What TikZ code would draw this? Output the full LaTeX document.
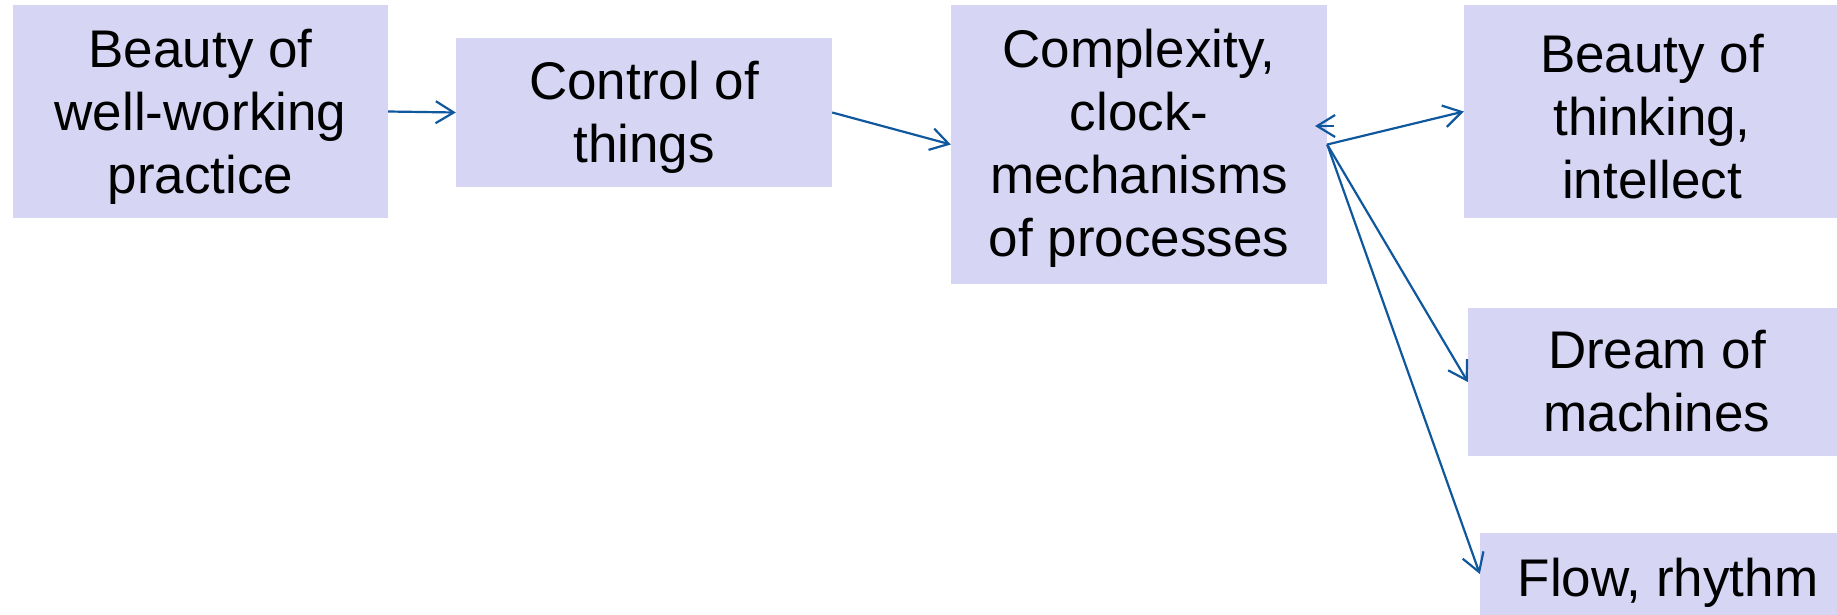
\documentclass[tikz,border=0pt]{standalone}
\usepackage{fontspec}
\setmainfont{Liberation Sans}
\usetikzlibrary{arrows.meta}
\definecolor{boxfill}{RGB}{214,214,244}
\definecolor{arrblue}{RGB}{16,88,158}
\tikzset{
  box/.style={fill=boxfill, draw=none, rectangle, inner sep=0pt},
  txt/.style={inner sep=0pt, align=center, font=\fontsize{53}{63}\selectfont},
  conn/.style={draw=arrblue, line width=2.2pt,
    -{Straight Barb[length=18pt,width=22pt,line width=2.2pt]}}
}
\begin{document}
\begin{tikzpicture}[x=1pt,y=-1pt]
\useasboundingbox (0,0) rectangle (1837,614);
\node[box, minimum width=375pt, minimum height=213pt] (b1) at (200.5,111.5) {};
\node[box, minimum width=376pt, minimum height=149pt] (b2) at (644,112.5) {};
\node[box, minimum width=376pt, minimum height=279pt] (b3) at (1139,144.5) {};
\node[box, minimum width=376pt, minimum height=213pt] (b4) at (1652,111.5) {};
\node[box, minimum width=378pt, minimum height=148pt] (b5) at (1657,382) {};
\node[box, minimum width=376pt, minimum height=82pt] (b6) at (1668,574) {};
\node[txt] (t1) at ([yshift=-5pt]b1.center) {Beauty of\\well-working\\practice};
\node[txt] (t2) at ([yshift=-5pt]b2.center) {Control of\\things};
\node[txt] (t3) at ([yshift=-3.5pt]b3.center) {Complexity,\\clock-\\mechanisms\\of processes};
\node[txt] (t4) at ([yshift=-5pt]b4.center) {Beauty of\\thinking,\\intellect};
\node[txt] (t5) at ([yshift=1.25pt]b5.center) {Dream of\\machines};
\node[txt] (t6) at ([yshift=-8.5pt]b6.center) {Flow, rhythm};
\coordinate (sa) at (1334,126);
\coordinate (sb) at (1315,126);
\draw[conn] (b1.east) -- (b2.west);
\draw[conn] (b2.east) -- (b3.west);
\draw[conn] (b3.east) -- (b4.west);
\draw[conn] (b3.east) -- (b5.west);
\draw[conn] (b3.east) -- (b6.west);
\draw[conn] (sa) -- (sb);
\end{tikzpicture}
\end{document}
